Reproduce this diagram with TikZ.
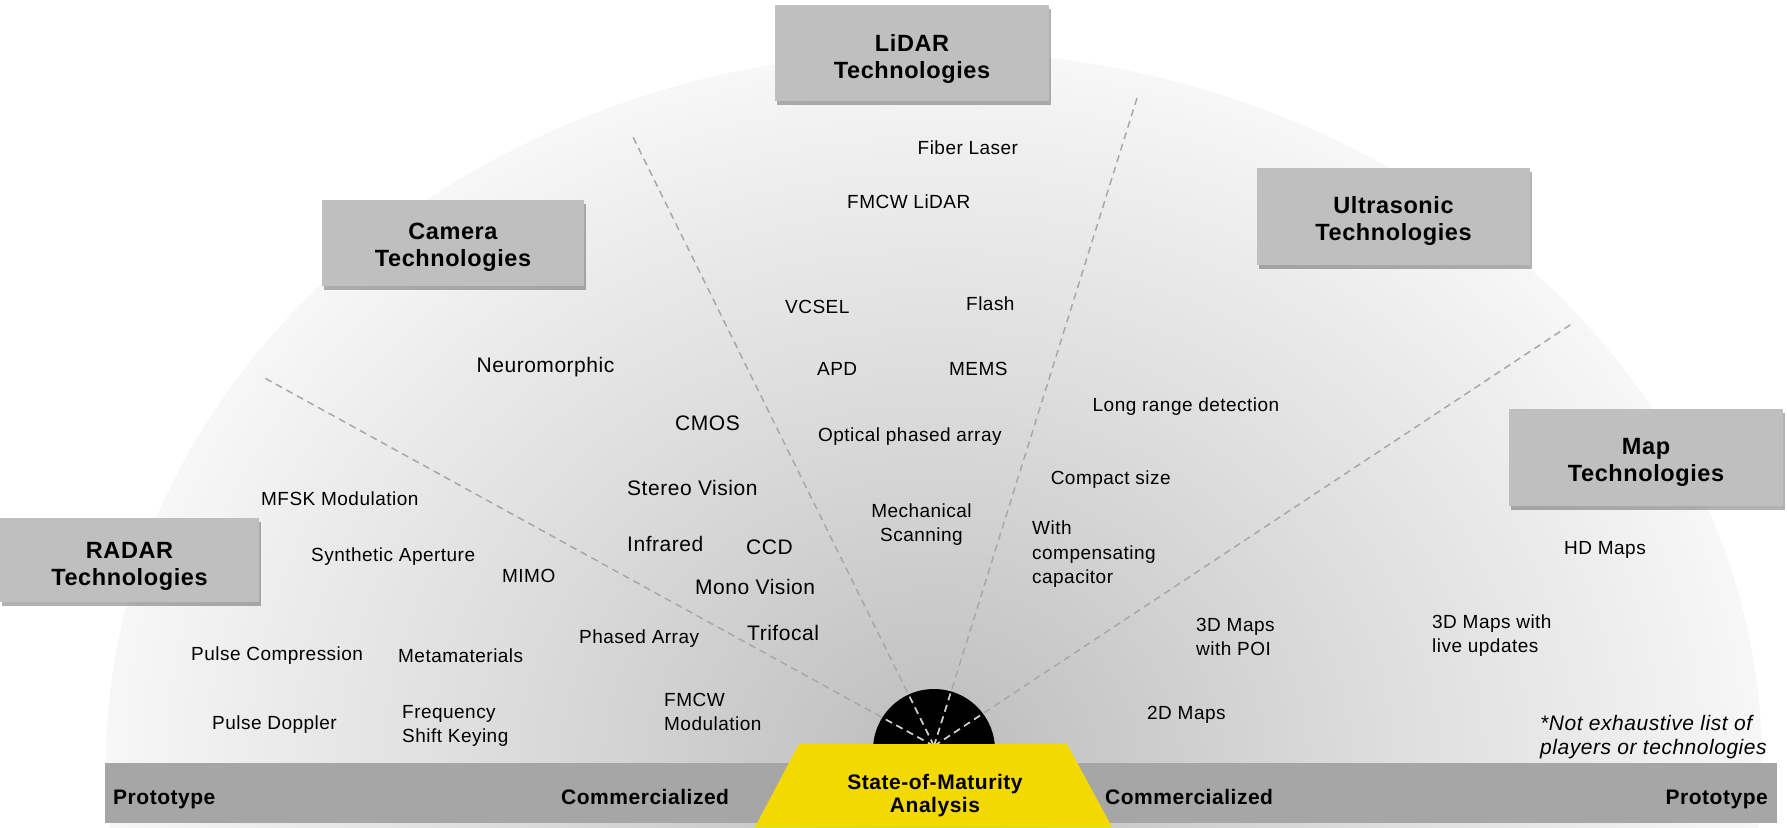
\documentclass[tikz,border=0pt]{standalone}
\usepackage{fontspec}
\setmainfont{Liberation Sans}[LetterSpace=2.5]
\usetikzlibrary{shadows}
\definecolor{g0}{HTML}{BABABA}
\definecolor{g1}{HTML}{C4C4C4}
\definecolor{g2}{HTML}{D0D0D0}
\definecolor{g3}{HTML}{DEDEDE}
\definecolor{g4}{HTML}{EBEBEB}
\definecolor{g5}{HTML}{F7F7F7}
\definecolor{boxgray}{HTML}{BFBFBF}
\definecolor{bargray}{HTML}{A6A6A6}
\definecolor{divgray}{HTML}{A8A8A8}
\definecolor{innerdiv}{HTML}{CFCFCF}
\definecolor{smyellow}{HTML}{F2D900}
\pgfdeclareradialshading{bgrad}{\pgfpoint{0bp}{0bp}}{color(0bp)=(g0); color(3bp)=(g1); color(8bp)=(g2); color(14bp)=(g3); color(20bp)=(g4); color(25bp)=(g5); color(50bp)=(g5)}
\tikzset{
  lbl/.style={anchor=base west, inner sep=0pt, align=left, font=\fontsize{19}{24}\selectfont},
  cam/.style={lbl, font=\fontsize{21}{25}\selectfont},
  tbox/.style={fill=boxgray, draw=none, inner sep=0pt,
    drop shadow={shadow xshift=1.5pt, shadow yshift=-3.5pt, fill=black, opacity=0.3}},
  ttext/.style={anchor=base, inner sep=0pt, align=center,
    font=\bfseries\fontsize{23.5}{27}\selectfont},
  barlbl/.style={anchor=base west, inner sep=0pt, font=\bfseries\fontsize{21}{25}\selectfont},
  divider/.style={draw=divgray, line width=1.5pt, dash pattern=on 7pt off 5pt},
  innerline/.style={draw=innerdiv, line width=1.5pt, dash pattern=on 7pt off 5pt}
}
\begin{document}
\begin{tikzpicture}[x=1pt, y=-1pt]
\useasboundingbox (0,0) rectangle (1787,827);
\fill[white] (0,0) rectangle (1787,827);
% background half-ellipse with radial gradient
\shade[shading=bgrad] (934,763) ellipse [x radius=828pt, y radius=712pt];
% black hub
\fill[black] (934,750) circle[radius=61pt];
% dividers
\coordinate (c) at (934,746);
\coordinate (o1) at (261,376);
\coordinate (o2) at (631,133);
\coordinate (o3) at (1137,98);
\coordinate (o4) at (1573,323);
\draw[divider] (c) -- (o1);
\draw[divider] (c) -- (o2);
\draw[divider] (c) -- (o3);
\draw[divider] (c) -- (o4);
\begin{scope}
\clip (934,750) circle[radius=61pt];
\draw[innerline] (c) -- (o1);
\draw[innerline] (c) -- (o2);
\draw[innerline] (c) -- (o3);
\draw[innerline] (c) -- (o4);
\end{scope}
% bottom bar
\fill[bargray] (105,763) rectangle (1777,823);
% yellow trapezoid
\fill[smyellow] (799,744) -- (1067,744) -- (1112,827) -- (755,827) -- cycle;
\node[anchor=base, inner sep=0pt, align=center, font=\bfseries\fontsize{21}{23.3}\selectfont] (soma) at (935,812.5) {State-of-Maturity\\Analysis};
% bar labels
\node[barlbl] (protoL) at (113,804.5) {Prototype};
\node[barlbl] (commL) at (561,804.5) {Commercialized};
\node[barlbl] (commR) at (1105,804.5) {Commercialized};
\node[barlbl, anchor=base east] (protoR) at (1768,804.5) {Prototype};
% category boxes
\node[tbox, minimum width=274pt, minimum height=96pt] (lidar) at (912,53) {};
\node[tbox, minimum width=262pt, minimum height=86pt] (camera) at (453,243) {};
\node[tbox, minimum width=259pt, minimum height=84pt] (radar) at (129.5,560) {};
\node[tbox, minimum width=273pt, minimum height=97pt] (ultra) at (1393.5,216.5) {};
\node[tbox, minimum width=274pt, minimum height=97pt] (map) at (1646,457.5) {};
\node[ttext] (lidar-t) at ([yshift=-25pt]lidar.center) {LiDAR\\Technologies};
\node[ttext] (camera-t) at ([yshift=-23.5pt]camera.center) {Camera\\Technologies};
\node[ttext] (radar-t) at ([yshift=-25pt]radar.center) {RADAR\\Technologies};
\node[ttext] (ultra-t) at ([yshift=-23.5pt]ultra.center) {Ultrasonic\\Technologies};
\node[ttext] (map-t) at ([yshift=-24pt]map.center) {Map\\Technologies};
% RADAR items
\node[lbl] (mfsk) at (261,505.8) {MFSK Modulation};
\node[lbl] (sar) at (311,561.8) {Synthetic Aperture};
\node[lbl] (mimo) at (502,582.5) {MIMO};
\node[lbl] (pcomp) at (191,660.8) {Pulse Compression};
\node[lbl] (meta) at (398,662.8) {Metamaterials};
\node[lbl] (phased) at (579,643.5) {Phased Array};
\node[lbl] (pdop) at (212,729.5) {Pulse Doppler};
\node[lbl] (fsk) at (402,742.5) {Frequency\\Shift Keying};
\node[lbl] (fmcwm) at (664,730.8) {FMCW\\Modulation};
% Camera items
\node[cam] (neuro) at (476.5,372.5) {Neuromorphic};
\node[cam] (cmos) at (675,430.2) {CMOS};
\node[cam] (stereo) at (627,495.5) {Stereo Vision};
\node[cam] (infra) at (627,551.5) {Infrared};
\node[cam] (ccd) at (746,554.2) {CCD};
\node[cam] (mono) at (695,594.2) {Mono Vision};
\node[cam] (trifocal) at (747,640.5) {Trifocal};
% LiDAR items
\node[lbl] (fiber) at (917.5,154.8) {Fiber Laser};
\node[lbl] (fmcwl) at (847,208) {FMCW LiDAR};
\node[lbl] (vcsel) at (785,313.8) {VCSEL};
\node[lbl] (flash) at (966,310.8) {Flash};
\node[lbl] (apd) at (817,375.8) {APD};
\node[lbl] (mems) at (949,375.8) {MEMS};
\node[lbl] (opa) at (818,441.8) {Optical phased array};
\node[lbl, anchor=base, align=center] (mech) at (921.5,541.8) {Mechanical\\Scanning};
% Ultrasonic items
\node[lbl] (lrd) at (1092.5,411.8) {Long range detection};
\node[lbl] (compact) at (1050.6,484.5) {Compact size};
\node[lbl, font=\fontsize{19}{24.5}\selectfont] (withcap) at (1032,583.5) {With\\compensating\\capacitor};
% Map items
\node[lbl] (hd) at (1564,554.8) {HD Maps};
\node[lbl] (poi) at (1196,655.8) {3D Maps\\with POI};
\node[lbl] (live) at (1432,652.8) {3D Maps with\\live updates};
\node[lbl] (twod) at (1147,719.5) {2D Maps};
% footnote
\node[lbl, font=\itshape\fontsize{21}{23.7}\selectfont] (note) at (1540,754.2) {*Not exhaustive list of\\players or technologies};
\end{tikzpicture}
\end{document}
